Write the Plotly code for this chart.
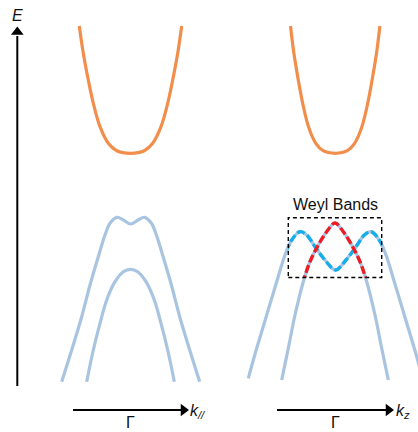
import plotly.graph_objects as go

# ---- data (k relative to Γ, E in chart units) ----
gamma_left = 130.5
gamma_right = 335.2

# conduction band (orange)
k_cond_left = [-51.2, -47.2, -42.2, -37.2, -30.5, -22.2, -13.8, 0.0, 13.8, 22.2, 30.5, 37.2, 42.2, 47.2, 51.2]
k_cond_right = [-44.7, -41.3, -36.9, -32.5, -26.7, -19.4, -12.1, 0.0, 12.1, 19.4, 26.7, 32.5, 36.9, 41.3, 44.7]
E_cond = [406, 378.7, 352, 328.7, 305.3, 288.7, 281.3, 278.7, 281.3, 288.7, 305.3, 328.7, 352, 378.7, 406]

# k_// valence bands
k_outer_par = [-69, -59, -49, -40.7, -32.4, -25.7, -20.7, -14, -7.4, 0, 7.4, 14, 20.7, 25.7, 32.4, 40.7, 49, 59, 69]
E_outer_par = [50.3, 82, 115.3, 147, 175.3, 197, 208.7, 214.7, 212, 208, 212, 214.7, 208.7, 197, 175.3, 147, 115.3, 82, 50.3]
k_inner_par = [-43.8, -37.2, -30.5, -23.8, -15.5, -7.2, 0, 7.2, 15.5, 23.8, 30.5, 37.2, 43.8]
E_inner_par = [50.3, 82, 108.7, 132, 150.3, 160.3, 162.7, 160.3, 150.3, 132, 108.7, 82, 50.3]

# k_z valence bands
k_outer_z = [-87.2, -78.8, -68.8, -58.8, -50.5, -43.8, -35.5, -28.8, -20.5, -10.5, 0,
             10.5, 20.5, 28.8, 35.5, 43.8, 50.5, 58.8, 68.8, 78.8, 87.2]
E_outer_z = [53.7, 83.7, 117, 150.3, 177, 192, 200.3, 197, 185.3, 172, 162,
             172, 185.3, 197, 200.3, 192, 177, 150.3, 117, 83.7, 53.7]
k_inner_z = [-53.3, -46.7, -40, -31.7, -25, -16.7, -8.3, 0, 8.3, 16.7, 25, 31.7, 40, 46.7, 53.3]
E_inner_z = [52, 83.7, 117, 150.3, 170.3, 187, 200.3, 209, 200.3, 187, 170.3, 150.3, 117, 83.7, 52]

# Weyl-band highlight window (k range, E range)
box_x = [288.3, 381.7]
box_E = [154.5, 214.3]

ORANGE = "#F28E4C"
LBLUE = "#A8C4E0"
CYAN = "#14AEEA"
RED = "#F01C24"
FONT = "Liberation Sans, Arial, sans-serif"

W, H = 418, 432
XR = [0, W]
YR = [0, H]

fig = go.Figure()


def band(k, E, g, color, xa="x", ya="y", dash="solid", width=3.2):
    fig.add_trace(go.Scatter(
        x=[g + v for v in k], y=E, mode="lines", xaxis=xa, yaxis=ya,
        line=dict(color=color, width=width, shape="spline", smoothing=1.0, dash=dash),
        hoverinfo="skip", showlegend=False))


band(k_cond_left, E_cond, gamma_left, ORANGE)
band(k_cond_right, E_cond, gamma_right, ORANGE)
band(k_outer_par, E_outer_par, gamma_left + 0.2, LBLUE)
band(k_inner_par, E_inner_par, gamma_left, LBLUE)
band(k_outer_z, E_outer_z, gamma_right + 0.3, LBLUE)
band(k_inner_z, E_inner_z, gamma_right - 0.2, LBLUE)

# dashed highlights, clipped to the box through a second subplot
band(k_outer_z, E_outer_z, gamma_right + 0.3, CYAN, "x2", "y2", "8px,3px", 3.4)
band(k_inner_z, E_inner_z, gamma_right - 0.2, RED, "x2", "y2", "8px,3px", 3.4)

fig.update_layout(
    width=W, height=H, margin=dict(l=0, r=0, t=0, b=0),
    paper_bgcolor="white", plot_bgcolor="rgba(0,0,0,0)",
    xaxis=dict(range=XR, visible=False, domain=[0, 1]),
    yaxis=dict(range=YR, visible=False, domain=[0, 1]),
    xaxis2=dict(range=box_x, visible=False,
                domain=[(box_x[0] - XR[0]) / W, (box_x[1] - XR[0]) / W], anchor="y2"),
    yaxis2=dict(range=box_E, visible=False,
                domain=[(box_E[0] - YR[0]) / H, (box_E[1] - YR[0]) / H], anchor="x2"),
    showlegend=False,
)

# dashed box
fig.add_shape(type="rect", xref="x", yref="y", x0=box_x[0], x1=box_x[1], y0=box_E[0], y1=box_E[1],
              line=dict(color="black", width=1.4, dash="4px,3px"))

# axis arrows: shaft + triangular head
def arrow(x0, y0, x1, y1, sym, hx, hy):
    fig.add_shape(type="line", xref="x", yref="y", x0=x0, y0=y0, x1=x1, y1=y1,
                  line=dict(color="black", width=2))
    fig.add_trace(go.Scatter(x=[hx], y=[hy], mode="markers", hoverinfo="skip", showlegend=False,
                             marker=dict(symbol=sym, size=11, color="black", line=dict(width=0))))

arrow(17.3, 46, 17.3, 396, "triangle-up", 17.3, 400)
arrow(73, 22, 182, 22, "triangle-right", 183.5, 22)
arrow(277, 22, 387, 22, "triangle-right", 388.5, 22)

txt = dict(xref="x", yref="y", showarrow=False, font=dict(family=FONT, size=16, color="#111"))
fig.add_annotation(x=17.5, y=417, text="<i>E</i>", **txt)
fig.add_annotation(x=335, y=228, text="Weyl Bands", **txt)
fig.add_annotation(x=130.5, y=10, text="Γ", **txt)
fig.add_annotation(x=335, y=10, text="Γ", **txt)
fig.add_annotation(x=188, y=21, text="<i>k</i><sub><i>//</i></sub>", xanchor="left", **txt)
fig.add_annotation(x=394, y=21, text="<i>k</i><sub><i>z</i></sub>", xanchor="left", **txt)

# remove the default page margin so the figure fills the 418x432 window exactly
fig.write_html(
    "out.html",
    config={"displayModeBar": False, "staticPlot": True},
    post_script="document.body.style.margin='0';document.body.style.overflow='hidden';",
)
